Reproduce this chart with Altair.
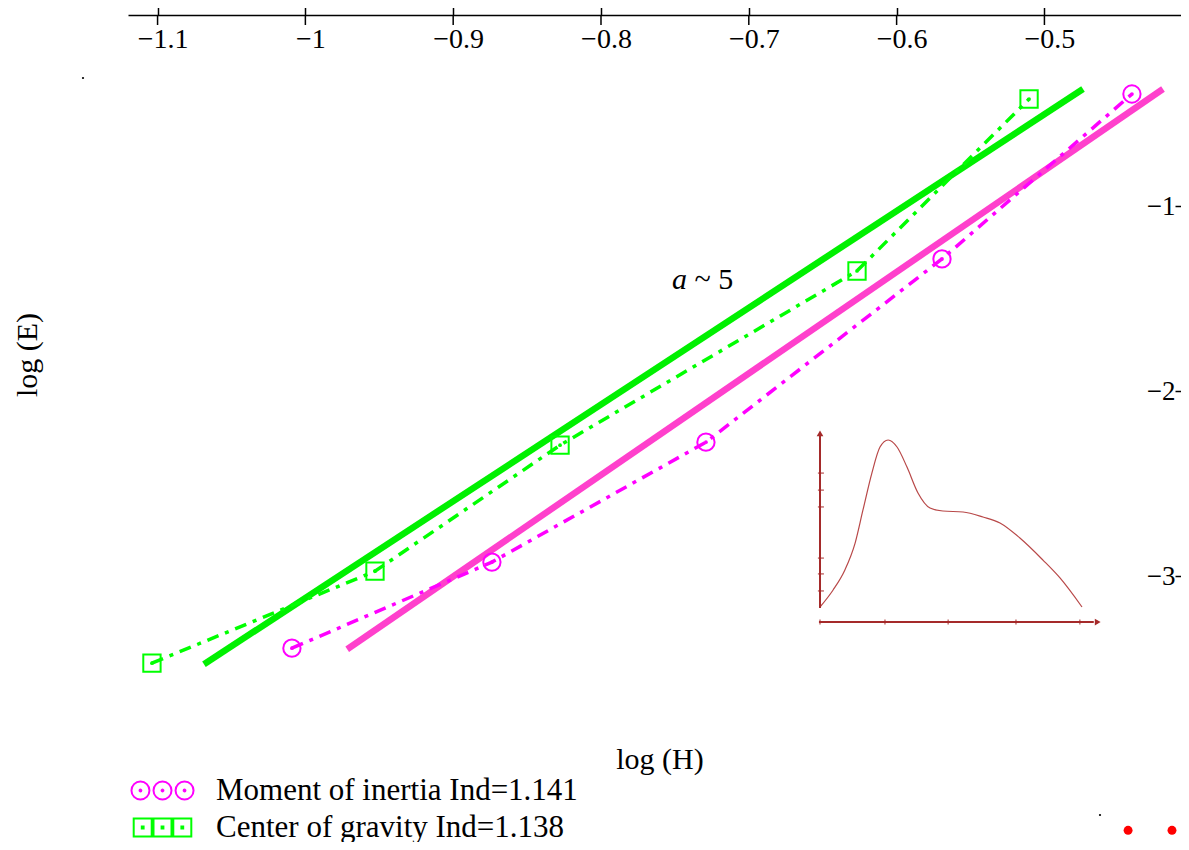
import altair as alt
import pandas as pd

series_names = ["Moment of inertia Ind=1.141", "Center of gravity Ind=1.138"]
series_colors = ["#ff00ff", "#00ff00"]
fit_colors = ["#ff40cc", "#00f000"]

moment_x = [-1.0091, -0.8738, -0.7290, -0.5693, -0.4408]
moment_y = [-3.389, -2.924, -2.276, -1.286, -0.395]
gravity_x = [-1.1038, -0.9529, -0.8277, -0.6268, -0.5104]
gravity_y = [-3.470, -2.973, -2.292, -1.351, -0.422]

fit_moment_x = [-0.9717, -0.4198]
fit_moment_y = [-3.395, -0.368]
fit_gravity_x = [-1.0686, -0.4739]
fit_gravity_y = [-3.476, -0.368]

x_ticks = [-1.1, -1.0, -0.9, -0.8, -0.7, -0.6, -0.5]
y_ticks = [-1, -2, -3]

inset_x = [0, 5.0, 9.5, 13.4, 16.4, 19.8, 22.9, 26.0, 29.4, 33.2, 37.4, 42.0, 46.9,
           54.6, 62.2, 68.7, 76.3, 85.1, 91.6, 100]
inset_y = [0, 10.2, 22.2, 38.3, 58.1, 80.2, 95.8, 100, 95.8, 83.8, 68.3, 59.3, 57.5,
           56.9, 53.9, 50.3, 41.3, 28.1, 17.4, 0]
inset_yticks = [9.6, 19.8, 29.3, 59.9, 70.0, 80.2]
inset_xticks = [0, 24.8, 48.9, 74.8, 99.2]

W, H = 1053, 700
FONT = "Liberation Serif"


# legend glyphs: three markers side by side (custom symbol paths)
def _circle(cx, r):
    return f"M {cx - r} 0 A {r} {r} 0 1 0 {cx + r} 0 A {r} {r} 0 1 0 {cx - r} 0 Z "


def _square(cx, r):
    return f"M {cx - r} {-r} L {cx + r} {-r} L {cx + r} {r} L {cx - r} {r} Z "


triple_circle = "".join(_circle(c, 1.0) + _circle(c, 0.1) for c in [-2.45, 0.0, 2.45]).strip()
triple_square = "".join(_square(c, 1.0) + _square(c, 0.1) for c in [-2.2, 0.0, 2.2]).strip()

pts = pd.DataFrame({
    "x": moment_x + gravity_x,
    "y": moment_y + gravity_y,
    "series": [series_names[0]] * len(moment_x) + [series_names[1]] * len(gravity_x),
    "c": [series_colors[0]] * len(moment_x) + [series_colors[1]] * len(gravity_x),
})
fits = pd.DataFrame({
    "x": fit_moment_x + fit_gravity_x,
    "y": fit_moment_y + fit_gravity_y,
    "c": [fit_colors[0]] * 2 + [fit_colors[1]] * 2,
})
ticks_df = pd.DataFrame({"x": x_ticks})

xs = alt.Scale(domain=[-1.12, -0.4076], nice=False, zero=False)
ys = alt.Scale(domain=[-3.75, 0.032], nice=False, zero=False)
x_axis = alt.Axis(orient="top", values=x_ticks, format="~g", tickSize=10, tickWidth=1.5,
                  tickColor="black", domainColor="black", domainWidth=1.5,
                  labelFont=FONT, labelFontSize=28, labelColor="black",
                  labelBaseline="top", labelPadding=-20, labelOverlap=False,
                  labelOffset=5, title=None, grid=False)
y_axis = alt.Axis(orient="left", offset=-W, values=y_ticks, format="~g", domain=False,
                  tickSize=6, tickWidth=1.5, tickColor="black",
                  labelFont=FONT, labelFontSize=27, labelColor="black",
                  labelPadding=0, title=None, grid=False)
X = alt.X("x:Q", scale=xs, axis=x_axis)
Y = alt.Y("y:Q", scale=ys, axis=y_axis)

fit_layer = alt.Chart(fits).mark_line(strokeWidth=6.5).encode(
    x=X, y=Y, color=alt.Color("c:N", scale=None))
line_layer = alt.Chart(pts).mark_line(strokeWidth=3.5, strokeDash=[12, 7, 4, 7]).encode(
    x=X, y=Y, color=alt.Color("c:N", scale=None))
point_layer = alt.Chart(pts).mark_point(filled=False, size=300, strokeWidth=2, opacity=1).encode(
    x=X, y=Y,
    color=alt.Color("c:N", scale=None),
    shape=alt.Shape("series:N", scale=alt.Scale(domain=series_names, range=["circle", "square"]),
                    legend=None),
)
dot_layer = alt.Chart(pts).mark_circle(size=14, opacity=1).encode(
    x=X, y=Y, color=alt.Color("c:N", scale=None))

legend = alt.Legend(orient="none", legendX=19, legendY=760, padding=0, rowPadding=5,
                    labelOffset=38, symbolSize=324, symbolStrokeWidth=2,
                    labelFont=FONT, labelFontSize=31, labelColor="black",
                    labelLimit=0, title=None)
legend_layer = alt.Chart(pts).transform_filter("false").mark_point(
    filled=False, size=324, strokeWidth=2, opacity=1).encode(
    x=X, y=Y,
    color=alt.Color("series:N", scale=alt.Scale(domain=series_names, range=series_colors),
                    legend=legend),
    shape=alt.Shape("series:N", scale=alt.Scale(domain=series_names,
                                                range=[triple_circle, triple_square]),
                    legend=legend),
)
tick_down = alt.Chart(ticks_df).mark_rule(color="black", strokeWidth=1.5).encode(
    x=X, y=alt.value(0), y2=alt.value(10))

ann = pd.DataFrame({"x": [-0.7520], "y": [-1.40]})
ann2 = pd.DataFrame({"x": [-0.7368], "y": [-1.40]})
a_text = alt.Chart(ann).mark_text(text="a", font=FONT, fontSize=30, fontStyle="italic",
                                  align="left", baseline="middle", color="black").encode(x=X, y=Y)
a_text2 = alt.Chart(ann2).mark_text(text="~ 5", font=FONT, fontSize=30,
                                    align="left", baseline="middle", color="black").encode(x=X, y=Y)
xtitle = alt.Chart(ann).mark_text(text="log (H)", font=FONT, fontSize=30, color="black",
                                  align="center", baseline="middle").encode(
    x=alt.value(532), y=alt.value(745))
ytitle = alt.Chart(ann).mark_text(text="log (E)", font=FONT, fontSize=30, color="black",
                                  angle=270, align="center", baseline="middle").encode(
    x=alt.value(-100), y=alt.value(340))
stray_df = pd.DataFrame({"px": [-45, 972], "py": [63, 800]})
stray = alt.Chart(stray_df).mark_circle(size=5, color="black", opacity=1).encode(
    x=alt.X("px:Q", scale=None), y=alt.Y("py:Q", scale=None))
red_df = pd.DataFrame({"x": [-0.4434, -0.4137], "y": [-4.373, -4.373]})
red_dots = alt.Chart(red_df).mark_circle(size=80, color="red", opacity=1).encode(x=X, y=Y)

main = alt.layer(fit_layer, line_layer, point_layer, dot_layer, legend_layer, tick_down,
                 a_text, a_text2, xtitle, ytitle, stray, red_dots).resolve_scale(
    shape="independent", color="independent")

# inset
ixs = alt.Scale(domain=[0, 100], range=[692, 954], nice=False, zero=False)
iys = alt.Scale(domain=[0, 100], range=[592, 425], nice=False, zero=False)
IX = alt.X("x:Q", scale=ixs, axis=None)
IY = alt.Y("y:Q", scale=iys, axis=None)
BROWN = "#a52a2a"

curve_df = pd.DataFrame({"x": inset_x, "y": inset_y})
inset_curve = alt.Chart(curve_df).mark_line(color="#b84848", strokeWidth=1.2,
                                            interpolate="monotone").encode(x=IX, y=IY)
axes_df = pd.DataFrame({"x": [0, -0.4], "y": [-0.6, -9], "x2": [0, 104.5], "y2": [103, -9]})
inset_axes = alt.Chart(axes_df).mark_rule(color=BROWN, strokeWidth=2).encode(
    x=IX, y=IY, x2="x2:Q", y2="y2:Q")
up_df = pd.DataFrame({"x": [0], "y": [104]})
right_df = pd.DataFrame({"x": [106], "y": [-9]})
arrow_up = alt.Chart(up_df).mark_point(shape="triangle-up", filled=True, size=45,
                                       color=BROWN, opacity=1).encode(x=IX, y=IY)
arrow_right = alt.Chart(right_df).mark_point(shape="triangle-right", filled=True, size=45,
                                             color=BROWN, opacity=1).encode(x=IX, y=IY)
ytk_df = pd.DataFrame({"y": inset_yticks, "x": [-0.8] * 6, "x2": [1.5] * 6})
inset_yt = alt.Chart(ytk_df).mark_rule(color=BROWN, strokeWidth=1).encode(x=IX, x2="x2:Q", y=IY)
xtk_df = pd.DataFrame({"x": inset_xticks, "y": [-10.5] * 5, "y2": [-7.5] * 5})
inset_xt = alt.Chart(xtk_df).mark_rule(color=BROWN, strokeWidth=1).encode(x=IX, y=IY, y2="y2:Q")

inset = alt.layer(inset_curve, inset_axes, arrow_up, arrow_right, inset_yt, inset_xt)

chart = alt.layer(main, inset).resolve_scale(
    x="independent", y="independent", color="independent", shape="independent"
).properties(
    width=W, height=H,
    background="white",
    autosize=alt.AutoSizeParams(type="none"),
    padding={"left": 120, "top": 7, "right": 0, "bottom": 127},
).configure_view(strokeWidth=0, stroke="transparent")

chart.save("out.html", embed_options={"renderer": "svg", "actions": False})
